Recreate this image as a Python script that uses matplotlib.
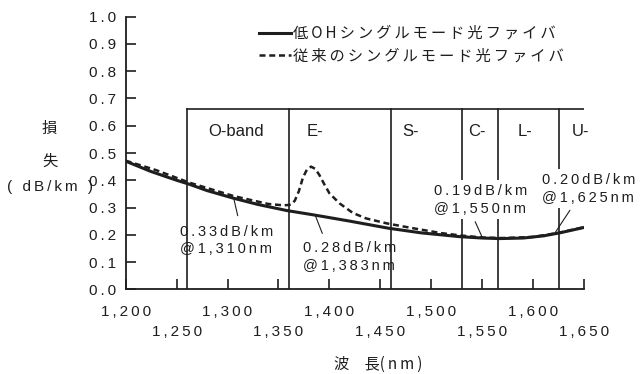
import matplotlib
matplotlib.use('Agg')
import matplotlib.pyplot as plt
from matplotlib.lines import Line2D
import numpy as np

# ---------------- data ----------------
wl_lowoh = [1200, 1225, 1250, 1262, 1280, 1306, 1330, 1358, 1386, 1420, 1458,
            1490, 1528, 1550, 1567, 1590, 1610, 1626, 1650]
loss_lowoh = [0.470, 0.432, 0.400, 0.386, 0.362, 0.334, 0.311, 0.289, 0.272, 0.250, 0.224,
              0.207, 0.193, 0.188, 0.186, 0.188, 0.196, 0.207, 0.227]

wl_conv = [1200, 1230, 1262, 1306, 1340, 1355, 1362, 1366, 1370, 1374, 1378, 1382,
           1386, 1390, 1395, 1400, 1410, 1423, 1436, 1456, 1482, 1510, 1530, 1550,
           1570, 1600, 1626, 1650]
loss_conv = [0.472, 0.437, 0.392, 0.342, 0.313, 0.308, 0.310, 0.325, 0.360, 0.410, 0.440, 0.450,
             0.442, 0.420, 0.385, 0.352, 0.315, 0.280, 0.260, 0.242, 0.224, 0.206, 0.197, 0.190,
             0.188, 0.192, 0.208, 0.228]

series_labels = ["低OHシングルモード光ファイバ", "従来のシングルモード光ファイバ"]

band_edges = [1260, 1360, 1460, 1530, 1565, 1625]
band_end = 1650
band_top = 0.66
band_names = ["O-band", "E-", "S-", "C-", "L-", "U-"]
band_label_x = [1281, 1378, 1471, 1536, 1585, 1638]
band_label_y = 0.578

ann_texts = ["0.33dB/km\n@1,310nm", "0.28dB/km\n@1,383nm",
             "0.19dB/km\n@1,550nm", "0.20dB/km\n@1,625nm"]
ann_text_xy = [(1253, 0.179), (1374, 0.119), (1503, 0.329), (1609, 0.369)]
ann_point_from = [(1306, 0.335), (1386, 0.272), (1543, 0.248), (1636, 0.290)]
ann_point_to = [(1310, 0.270), (1393, 0.205), (1550, 0.190), (1621, 0.205)]
ann_boxed = [False, False, True, True]

x_major = [1200, 1300, 1400, 1500, 1600]
x_major_labels = ["1,200", "1,300", "1,400", "1,500", "1,600"]
x_minor = [1250, 1350, 1450, 1550, 1650]
x_minor_labels = ["1,250", "1,350", "1,450", "1,550", "1,650"]
y_ticks = [0.0, 0.1, 0.2, 0.3, 0.4, 0.5, 0.6, 0.7, 0.8, 0.9, 1.0]
y_tick_labels = ["0.0", "0.1", "0.2", "0.3", "0.4", "0.5", "0.6", "0.7", "0.8", "0.9", "1.0"]

# ---------------- style ----------------
INK = '#1e1e1e'
LAT = 'Liberation Sans'
CJK = ['Noto Sans CJK JP', 'DejaVu Sans']
TS = '\u2009'


def spaced(s):
    return '\n'.join(TS.join(line) for line in s.split('\n'))


plt.rcParams['font.family'] = [LAT, 'DejaVu Sans']

fig = plt.figure(figsize=(6.41, 3.74), dpi=100)
ax = fig.add_axes([0.196, 0.2265, 0.7154, 0.7288])
ax.set_xlim(1200, 1650)
ax.set_ylim(0, 1.0)

for s in ['top', 'right']:
    ax.spines[s].set_visible(False)
for s in ['left', 'bottom']:
    ax.spines[s].set_linewidth(1.3)
    ax.spines[s].set_color(INK)

# bands
ax.plot([band_edges[0], band_end], [band_top, band_top], color=INK, lw=1.2, zorder=1)
for e in band_edges:
    ax.plot([e, e], [0, band_top], color=INK, lw=1.2, zorder=1)
for name, bx in zip(band_names, band_label_x):
    ax.text(bx, band_label_y, name, ha='left', va='center', fontsize=12,
            color=INK, family=LAT)

# curves
ax.plot(wl_lowoh, loss_lowoh, color=INK, lw=2.2, solid_capstyle='butt', zorder=4)
ax.plot(wl_conv, loss_conv, color=INK, lw=1.8, ls=(0, (2.4, 1.5)), zorder=3)

# annotations
for t, (tx, ty), p0, p1, boxed in zip(ann_texts, ann_text_xy, ann_point_from,
                                      ann_point_to, ann_boxed):
    kw = {}
    if boxed:
        kw['bbox'] = dict(facecolor='white', edgecolor='none', pad=2.5)
    ax.text(tx, ty, spaced(t), ha='left', va='center', fontsize=10.5,
            color=INK, linespacing=1.35, zorder=5, clip_on=False, **kw)
    ax.annotate('', xy=p0, xytext=p1,
                arrowprops=dict(arrowstyle='-', lw=0.8, color=INK,
                                shrinkA=0, shrinkB=0), zorder=6)

# ticks
ax.set_yticks(y_ticks, [spaced(l) for l in y_tick_labels])
ax.set_xticks(x_major, [spaced(l) for l in x_major_labels])
ax.set_xticks(x_minor, [spaced(l) for l in x_minor_labels], minor=True)
ax.tick_params(axis='both', which='both', direction='in', length=7, width=1.2,
               colors=INK, labelsize=11)
ax.tick_params(axis='y', pad=7)
ax.tick_params(axis='x', which='major', pad=11)
ax.tick_params(axis='x', which='minor', pad=26)

# legend
handles = [Line2D([], [], color=INK, lw=2.2),
           Line2D([], [], color=INK, lw=1.8, ls=(0, (2.4, 1.5)))]
leg = ax.legend(handles, [TS.join(l) for l in series_labels], loc='upper left',
                bbox_to_anchor=(259 / 641, 1 - 25 / 374), bbox_transform=fig.transFigure,
                frameon=False, handlelength=2.1, handletextpad=0.15, labelspacing=0.38,
                borderpad=0, borderaxespad=0,
                prop={'family': CJK, 'size': 11})
for t in leg.get_texts():
    t.set_color(INK)

# axis titles
fig.text(49.5 / 641, 1 - 128 / 374, '損', ha='center', va='center', fontsize=11,
         family=CJK, color=INK)
fig.text(49.5 / 641, 1 - 161.5 / 374, '失', ha='center', va='center', fontsize=11,
         family=CJK, color=INK)
fig.text(50 / 641, 1 - 187 / 374, spaced('( dB/km )'), ha='center', va='center',
         fontsize=11, color=INK)
fig.text(378 / 641, 1 - 364 / 374, '波　長(' + TS + 'n' + TS + 'm' + TS + ')',
         ha='center', va='center', fontsize=11, family=CJK, color=INK)

fig.savefig('out.png', dpi=100)
